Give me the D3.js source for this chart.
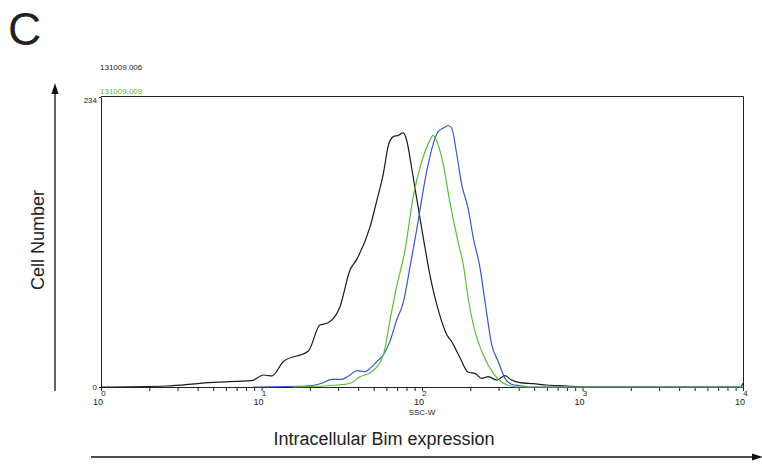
<!DOCTYPE html>
<html>
<head>
<meta charset="utf-8">
<script src="https://cdn.jsdelivr.net/npm/d3@7"></script>
<style>
  body { margin: 0; background: #fff; }
  svg { display: block; font-family: "Liberation Sans", Arial, Helvetica, sans-serif; }
</style>
</head>
<body>
<section></section>
<script>
// SSC-W channel value, cell count
const sample006 = [
  [1, 0], [2.57, 0.8], [4.14, 3], [5.26, 4], [7.0, 4.6], [8.69, 5.1], [10.3, 9.7], [11.6, 8.9],
  [13.7, 20.6], [19.6, 29], [23.1, 50], [25.8, 51.6], [30.8, 64.6], [35.6, 94.4], [39.2, 103],
  [47.4, 129], [52.2, 150], [57.4, 172], [61.7, 195], [66.3, 202], [71.2, 203], [76.4, 205],
  [80.3, 199], [86.3, 176.5], [92.7, 152], [102, 120], [112, 90.4], [129, 58], [143, 42],
  [153, 36.6], [173, 23.2], [194, 11.9], [214, 11], [235, 7], [259, 8.3], [292, 5.6],
  [329, 9.1], [362, 5.6], [408, 3.5], [494, 2.7], [598, 1.6], [800, 0.8], [1000, 0],
  [9600, 0], [10000, 3]
];
const sampleBlue = [
  [8.85, 0], [20, 1], [23.7, 3], [27.4, 6.2], [31.6, 6.2], [35.6, 9.7], [39.2, 13.2], [44.2, 12.3],
  [47.4, 15], [52.2, 20.4], [57.4, 25.8], [63.2, 37], [69.5, 54], [76.4, 68], [84.2, 97],
  [92.7, 127], [107, 174], [118, 197], [126, 206], [136, 209], [146, 211], [153, 209],
  [165, 187], [177, 163], [194, 144], [209, 120], [230, 96], [247, 69], [272, 34],
  [299, 20.4], [329, 7], [362, 2.2], [408, 1], [471, 0], [10000, 0]
];
const sample009 = [
  [15.8, 0], [30.1, 1.6], [35.6, 3], [41.1, 8.3], [48.6, 12.3], [57.4, 25.8], [63.2, 54],
  [69.5, 81], [78.3, 110], [88.3, 154], [98.6, 180], [112, 199], [117, 203], [124, 198],
  [136, 179], [149, 149.5], [168, 117], [181, 98.4], [194, 71.6], [214, 44.6], [241, 25.8],
  [278, 11], [321, 3], [353, 1], [408, 0], [10000, 0]
];

const majorTicks = [1, 10, 100, 1000, 10000];
const exponents = ["0", "1", "2", "3", "4"];
const yTicks = [0, 234];
const fileNames = ["131009.006", "131009.009"];

const width = 762;
const height = 466;

const x = d3.scaleLog().domain([1, 10000]).range([101, 743]);
const y = d3.scaleLinear().domain([0, 234]).range([387, 97]);

const minorTicks = [];
majorTicks.slice(0, -1).forEach(m => {
  for (let k = 1; k < 10; k++) minorTicks.push(m * k);
});
minorTicks.push(10000);

const svg = d3.select("section")
  .append("svg")
  .attr("width", width)
  .attr("height", height)
  .attr("viewBox", [0, 0, width, height]);

// panel letter
svg.append("text")
  .attr("x", 8).attr("y", 45)
  .attr("font-size", 46)
  .attr("fill", "#222")
  .text("C");

// file names
svg.append("text")
  .attr("x", 100).attr("y", 70)
  .attr("font-size", 8)
  .attr("fill", "#222")
  .text(fileNames[0]);
svg.append("text")
  .attr("x", 100).attr("y", 94)
  .attr("font-size", 8)
  .attr("fill", "#5bb83a")
  .text(fileNames[1]);

// frame top and right
svg.append("path")
  .attr("d", `M${x(1)},${y(234) - 0.5}H${x(10000) + 0.5}V${y(0)}`)
  .attr("fill", "none")
  .attr("stroke", "#222")
  .attr("stroke-width", 1);

// x axis
const gx = svg.append("g")
  .attr("transform", `translate(0,${y(0)})`)
  .call(d3.axisBottom(x)
    .tickValues(minorTicks)
    .tickSize(4)
    .tickSizeOuter(0)
    .tickFormat(""));
gx.select(".domain").attr("stroke", "#222");
gx.selectAll(".tick line").attr("stroke", "#222");

const lab = gx.append("g").attr("font-size", 9).attr("fill", "#222");
majorTicks.forEach((t, i) => {
  lab.append("text")
    .attr("x", x(t) + 2).attr("y", 18)
    .attr("text-anchor", "end")
    .text("10");
  lab.append("text")
    .attr("x", x(t) + 2.5).attr("y", 9)
    .attr("font-size", 8)
    .text(exponents[i]);
});
gx.append("text")
  .attr("x", x(100)).attr("y", 28)
  .attr("text-anchor", "middle")
  .attr("font-size", 8)
  .attr("fill", "#222")
  .text("SSC-W");

// y axis
const gy = svg.append("g")
  .attr("transform", `translate(${x(1)},0)`)
  .call(d3.axisLeft(y).tickValues(yTicks).tickSize(2).tickSizeOuter(0).tickFormat(""));
gy.select(".domain").attr("stroke", "#222");
gy.selectAll(".tick line").attr("stroke", "#222");
gy.append("text")
  .attr("x", -4).attr("y", y(0) + 3)
  .attr("text-anchor", "end")
  .attr("font-size", 8).attr("fill", "#222")
  .text(yTicks[0]);
gy.append("text")
  .attr("x", -4).attr("y", y(234) + 6)
  .attr("text-anchor", "end")
  .attr("font-size", 8).attr("fill", "#222")
  .text(yTicks[1]);

// histograms
const line = d3.line()
  .x(d => x(d[0]))
  .y(d => y(d[1]))
  .curve(d3.curveMonotoneX);

const series = [
  { data: sample006, color: "#1a1a1a" },
  { data: sampleBlue, color: "#3a58c4" },
  { data: sample009, color: "#5bbb3c" }
];
svg.append("g")
  .selectAll("path")
  .data(series)
  .join("path")
  .attr("d", d => line(d.data))
  .attr("fill", "none")
  .attr("stroke", d => d.color)
  .attr("stroke-width", 1.2);

// outer arrows
svg.append("line")
  .attr("x1", 55).attr("y1", 391).attr("x2", 55).attr("y2", 92)
  .attr("stroke", "#111").attr("stroke-width", 1.3);
svg.append("path")
  .attr("d", "M55,83L51.5,94L58.5,94Z")
  .attr("fill", "#111");
svg.append("text")
  .attr("transform", "translate(44,240) rotate(-90)")
  .attr("text-anchor", "middle")
  .attr("font-size", 18)
  .attr("fill", "#222")
  .text("Cell Number");

svg.append("line")
  .attr("x1", 91).attr("y1", 457).attr("x2", 754).attr("y2", 457)
  .attr("stroke", "#111").attr("stroke-width", 1.3);
svg.append("path")
  .attr("d", "M763,457L752,453.5L752,460.5Z")
  .attr("fill", "#111");
svg.append("text")
  .attr("x", 384).attr("y", 445)
  .attr("text-anchor", "middle")
  .attr("font-size", 18)
  .attr("fill", "#222")
  .text("Intracellular Bim expression");
</script>
</body>
</html>
